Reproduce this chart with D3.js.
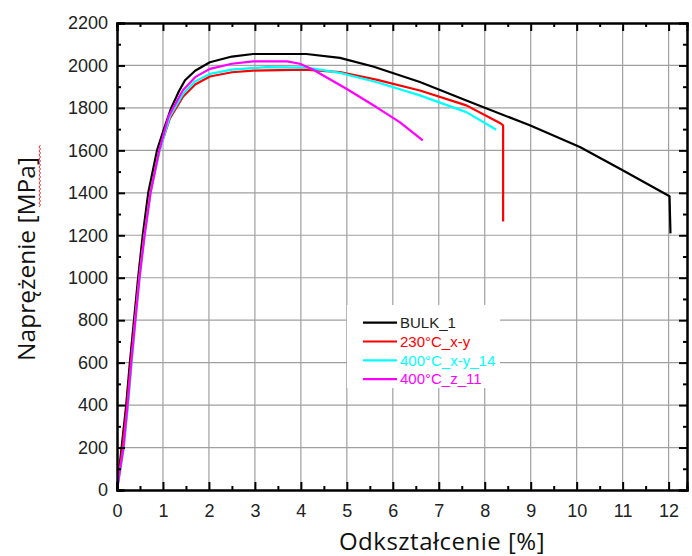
<!DOCTYPE html>
<html>
<head>
<meta charset="utf-8">
<script src="https://cdn.jsdelivr.net/npm/d3@7"></script>
<style>
  body { margin: 0; background: #fff; }
  svg { display: block; }
</style>
</head>
<body>
<svg id="chart"></svg>
<script>
// strain [%] / stress [MPa] points
const bulk = [[0,0],[0.1,200],[0.2,400],[0.28,600],[0.37,800],[0.46,1000],[0.56,1200],[0.68,1400],[0.87,1600],[1.02,1700],[1.18,1800],[1.35,1880],[1.48,1930],[1.7,1975],[2.02,2015],[2.5,2042],[2.96,2054],[4.12,2054],[4.85,2036],[5.57,1995],[6.59,1922],[7.6,1835],[8.98,1718],[10.07,1616],[11.0,1506],[12.02,1384],[12.04,1209]];
const t230xy = [[0,0],[0.12,200],[0.22,400],[0.3,600],[0.39,800],[0.48,1000],[0.59,1200],[0.72,1400],[0.92,1600],[1.15,1750],[1.43,1851],[1.7,1910],[2.02,1948],[2.5,1968],[2.96,1976],[4.1,1980],[4.85,1969],[5.64,1933],[6.59,1882],[7.6,1812],[8.33,1729],[8.4,1718],[8.4,1265]];
const t400xy = [[0,0],[0.15,200],[0.24,400],[0.32,600],[0.4,800],[0.49,1000],[0.6,1200],[0.73,1400],[0.93,1600],[1.15,1760],[1.44,1867],[1.7,1925],[2.02,1960],[2.5,1980],[3.26,1992],[4.13,1990],[4.85,1965],[5.64,1922],[6.59,1859],[7.6,1780],[8.25,1697]];
const t400z = [[0,0],[0.14,200],[0.23,400],[0.31,600],[0.4,800],[0.49,1000],[0.6,1200],[0.73,1400],[0.92,1600],[1.12,1760],[1.43,1882],[1.7,1945],[2.02,1984],[2.5,2008],[2.96,2019],[3.7,2019],[3.98,2008],[4.27,1980],[4.99,1890],[5.64,1804],[6.15,1733],[6.65,1647]];

const seriesNames = ["BULK_1", "230°C_x-y", "400°C_x-y_14", "400°C_z_11"];
const seriesData = [bulk, t230xy, t400xy, t400z];
const seriesColors = ["#000000", "#ff0000", "#00ffff", "#ff00ff"];

const xTicks = [0,1,2,3,4,5,6,7,8,9,10,11,12];
const yTicks = [0,200,400,600,800,1000,1200,1400,1600,1800,2000,2200];

const W = 692, H = 556;
const margin = {top: 23, right: 5, bottom: 66, left: 117};

const svg = d3.select('#chart').attr('width', W).attr('height', H);

const x = d3.scaleLinear().domain([0, 12.4]).range([margin.left, W - margin.right]);
const y = d3.scaleLinear().domain([0, 2200]).range([H - margin.bottom, margin.top]);

// grid
svg.append('g').selectAll('line').data(xTicks.slice(1)).join('line')
  .attr('x1', d => x(d)).attr('x2', d => x(d))
  .attr('y1', y(0)).attr('y2', y(2200))
  .attr('stroke', '#a0a0a0').attr('stroke-width', 1.2);
svg.append('g').selectAll('line').data(yTicks.slice(1, -1)).join('line')
  .attr('y1', d => y(d)).attr('y2', d => y(d))
  .attr('x1', x(0)).attr('x2', x(12.4))
  .attr('stroke', '#a0a0a0').attr('stroke-width', 1.2);

// curves
const line = d3.line().x(d => x(d[0])).y(d => y(d[1]));
svg.append('g').selectAll('path').data(seriesData).join('path')
  .attr('d', line)
  .attr('fill', 'none')
  .attr('stroke', (d, i) => seriesColors[i])
  .attr('stroke-width', 2.2)
  .attr('stroke-linejoin', 'round');

// axes: ticks pointing inward on all four sides
const minorX = d3.range(0.5, 12.4, 1);
const minorY = d3.range(100, 2200, 200);

svg.append('g').attr('transform', `translate(0,${y(0)})`)
  .call(d3.axisBottom(x).tickValues(minorX).tickSize(-4).tickFormat(''));
svg.append('g').attr('transform', `translate(0,${y(0)})`)
  .call(d3.axisBottom(x).tickValues(xTicks).tickSize(-8).tickPadding(14).tickFormat(d3.format('d')));
svg.append('g').attr('transform', `translate(0,${y(2200)})`)
  .call(d3.axisTop(x).tickValues(minorX).tickSize(-4).tickFormat(''));
svg.append('g').attr('transform', `translate(0,${y(2200)})`)
  .call(d3.axisTop(x).tickValues(xTicks).tickSize(-8).tickFormat(''));

svg.append('g').attr('transform', `translate(${x(0)},0)`)
  .call(d3.axisLeft(y).tickValues(minorY).tickSize(-4).tickFormat(''));
svg.append('g').attr('transform', `translate(${x(0)},0)`)
  .call(d3.axisLeft(y).tickValues(yTicks).tickSize(-8).tickPadding(9).tickFormat(d3.format('d')));
svg.append('g').attr('transform', `translate(${x(12.4)},0)`)
  .call(d3.axisRight(y).tickValues(minorY).tickSize(-4).tickFormat(''));
svg.append('g').attr('transform', `translate(${x(12.4)},0)`)
  .call(d3.axisRight(y).tickValues(yTicks).tickSize(-8).tickFormat(''));

svg.selectAll('.domain').attr('stroke', '#000').attr('stroke-width', 2);
svg.selectAll('.tick line').attr('stroke', '#000').attr('stroke-width', 2);
svg.selectAll('.tick text')
  .attr('font-family', 'Liberation Sans, Arial, sans-serif')
  .attr('font-size', 18).attr('fill', '#222');

// legend
const lg = svg.append('g');
lg.append('rect').attr('x', 347).attr('y', 305).attr('width', 153).attr('height', 83).attr('fill', '#fff');
seriesNames.forEach((name, i) => {
  const ly = 322.7 + i * 18.8;
  lg.append('line').attr('x1', 363).attr('x2', 397).attr('y1', ly).attr('y2', ly)
    .attr('stroke', seriesColors[i]).attr('stroke-width', 2.2);
  lg.append('text').attr('x', 400).attr('y', ly).attr('dy', '0.35em')
    .attr('font-family', 'Liberation Sans, Arial, sans-serif').attr('font-size', 15)
    .attr('fill', i == 0 ? '#222' : seriesColors[i]).text(name);
});

// axis titles
svg.append('text').attr('x', 442).attr('y', 550)
  .attr('text-anchor', 'middle')
  .attr('font-family', 'Open Sans, Noto Sans, sans-serif').attr('font-size', 24)
  .attr('letter-spacing', 0.5).attr('fill', '#111')
  .text('Odkształcenie [%]');
const yt = svg.append('g').attr('transform', 'translate(35,259) rotate(-90)');
yt.append('text').attr('text-anchor', 'middle')
  .attr('font-family', 'Open Sans, Noto Sans, sans-serif').attr('font-size', 24.5).attr('fill', '#111')
  .text('Naprężenie [MPa]');
// spell-check squiggle under "MPa"
const sq = d3.range(0, 64, 2).map((v, i) => [52 + v, 4 + (i % 2 ? 1.5 : 0)]);
yt.append('path').attr('d', d3.line()(sq)).attr('fill', 'none').attr('stroke', '#e83030').attr('stroke-width', 1);
</script>
</body>
</html>
